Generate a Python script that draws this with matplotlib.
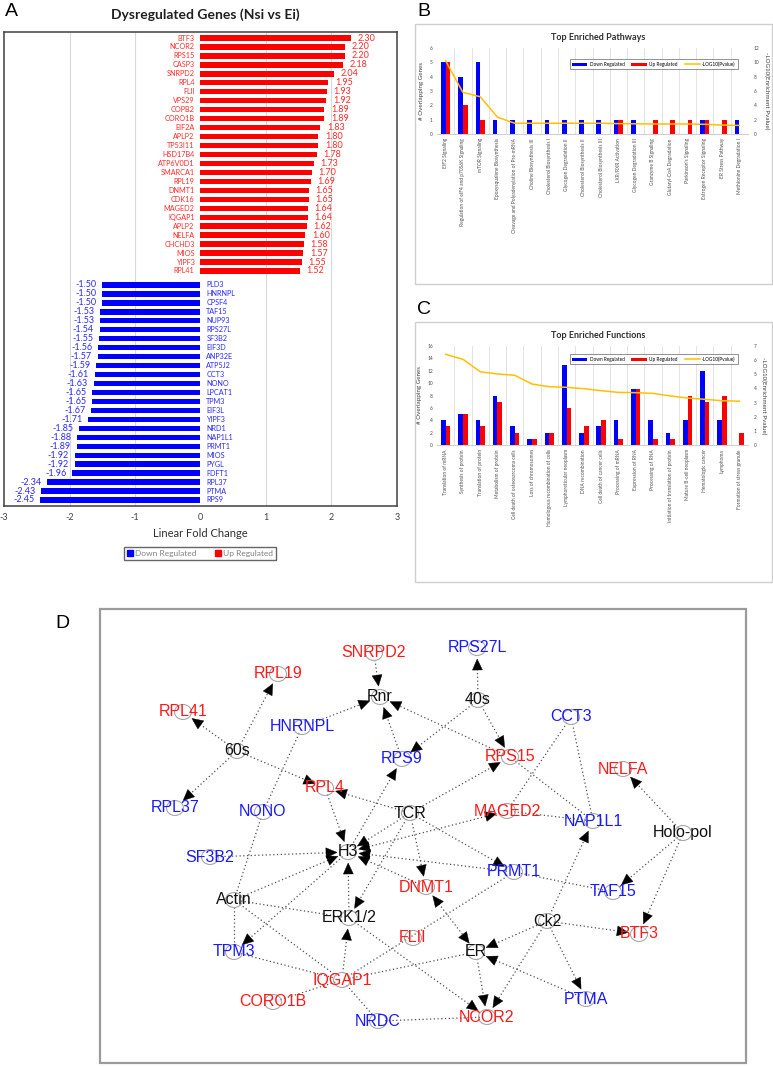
import numpy as np
import matplotlib
matplotlib.use("Agg")
import matplotlib.pyplot as plt
from matplotlib.patches import Patch, Rectangle, Ellipse, Polygon

W, H = 773, 1066

# ---------------- DATA ----------------
# Panel A: dysregulated genes (linear fold change)
up_genes = ["BTF3", "NCOR2", "RPS15", "CASP3", "SNRPD2", "RPL4", "FLII", "VPS29", "COPB2",
            "CORO1B", "EIF2A", "APLP2", "TP53I11", "HSD17B4", "ATP6V0D1", "SMARCA1", "RPL19",
            "DNMT1", "CDK16", "MAGED2", "IQGAP1", "APLP2", "NELFA", "CHCHD3", "MIOS", "YIPF3", "RPL41"]
up_vals = [2.30, 2.20, 2.20, 2.18, 2.04, 1.95, 1.93, 1.92, 1.89, 1.89, 1.83, 1.80, 1.80, 1.78,
           1.73, 1.70, 1.69, 1.65, 1.65, 1.64, 1.64, 1.62, 1.60, 1.58, 1.57, 1.55, 1.52]
down_genes = ["PLD3", "HNRNPL", "CPSF4", "TAF15", "NUP93", "RPS27L", "SF3B2", "EIF3D", "ANP32E",
              "ATP5J2", "CCT3", "NONO", "LPCAT1", "TPM3", "EIF3L", "YIPF3", "NRD1", "NAP1L1",
              "PRMT1", "MIOS", "PYGL", "FDFT1", "RPL37", "PTMA", "RPS9"]
down_vals = [-1.50, -1.50, -1.50, -1.53, -1.53, -1.54, -1.55, -1.56, -1.57, -1.59, -1.61, -1.63,
             -1.65, -1.65, -1.67, -1.71, -1.85, -1.88, -1.89, -1.92, -1.92, -1.96, -2.34, -2.43, -2.45]

# Panel B: top enriched pathways
path_names = ["EIF2 Signaling", "Regulation of eIF4 and p70S6K Signaling", "mTOR Signaling",
              "Epoxysqualene Biosynthesis", "Cleavage and Polyadenylation of Pre-mRNA",
              "Choline Biosynthesis III", "Cholesterol Biosynthesis I", "Glycogen Degradation II",
              "Cholesterol Biosynthesis II", "Cholesterol Biosynthesis III", "LXR/RXR Activation",
              "Glycogen Degradation III", "Granzyme B Signaling", "Glutaryl-CoA Degradation",
              "Parkinson's Signaling", "Estrogen Receptor Signaling", "ER Stress Pathway",
              "Methionine Degradation I"]
path_down = [5, 4, 5, 1, 1, 1, 1, 1, 1, 1, 1, 1, 0, 0, 0, 1, 0, 1]
path_up = [5, 2, 1, 0, 0, 0, 0, 0, 0, 0, 1, 0, 1, 1, 1, 1, 1, 0]
path_logp = [10.2, 5.8, 5.2, 2.35, 1.5, 1.5, 1.5, 1.5, 1.5, 1.5, 1.45, 1.42, 1.4, 1.4, 1.4,
             1.35, 1.25, 1.2]

# Panel C: top enriched functions
func_names = ["Translation of mRNA", "Synthesis of protein", "Translation of protein",
              "Metabolism of protein", "Cell death of osteosarcoma cells", "Loss of chromosomes",
              "Homologous recombination of cells", "Lymphoreticular neoplasm", "DNA recombination",
              "Cell death of cancer cells", "Processing of mRNA", "Expression of RNA",
              "Processing of RNA", "Initiation of translation of protein", "Mature B-cell neoplasm",
              "Hematologic cancer", "Lymphoma", "Formation of stress granule"]
func_down = [4, 5, 4, 8, 3, 1, 2, 13, 2, 3, 4, 9, 4, 2, 4, 12, 4, 0]
func_up = [3, 5, 3, 7, 2, 1, 2, 6, 3, 4, 1, 9, 1, 1, 8, 7, 8, 2]
func_logp = [6.41, 6.06, 5.18, 5.02, 4.93, 4.31, 4.12, 4.08, 3.98, 3.84, 3.72, 3.70, 3.65,
             3.47, 3.32, 3.23, 3.13, 3.10]

# Panel D: network nodes (name, x, y in pixel space of the picture) and kind
node_names = ["SNRPD2", "RPS27L", "RPL19", "Rnr", "40s", "RPL41", "HNRNPL", "CCT3", "60s",
              "RPS9", "RPS15", "NELFA", "RPL4", "RPL37", "NONO", "TCR", "MAGED2", "NAP1L1",
              "Holo-pol", "H3", "SF3B2", "PRMT1", "DNMT1", "TAF15", "Actin", "ERK1/2", "Ck2",
              "FLII", "BTF3", "ER", "TPM3", "IQGAP1", "PTMA", "CORO1B", "NRDC", "NCOR2"]
node_x = [374, 477, 278, 380, 478, 183, 302, 571, 237, 402, 510, 623, 325, 175, 263, 410, 507,
          593, 683, 348, 210, 514, 426, 613, 234, 349, 547, 413, 639, 476, 234, 342, 586, 273,
          378, 487]
node_y = [653, 648, 674, 697, 700, 712, 727, 717, 751, 759, 757, 769, 788, 808, 812, 813, 811,
          821, 833, 852, 857, 872, 887, 892, 900, 918, 921, 938, 934, 952, 952, 980, 999, 1002,
          1021, 1017]
node_kind = ["up", "down", "up", "hub", "hub", "up", "down", "down", "hub", "down", "up", "up",
             "up", "down", "down", "hub", "up", "down", "hub", "hub", "down", "down", "up", "down",
             "hub", "hub", "hub", "up", "up", "hub", "down", "up", "down", "up", "down", "up"]
edge_src = ["SNRPD2", "HNRNPL", "RPS9", "RPS15", "40s", "40s", "40s", "60s", "60s", "60s", "60s",
            "HNRNPL", "NONO", "TCR", "RPL4", "TCR", "TCR", "TCR", "TCR", "TCR", "H3", "H3",
            "PRMT1", "DNMT1", "SF3B2", "Actin", "H3", "ERK1/2", "Actin", "Actin", "Actin", "TPM3",
            "IQGAP1", "IQGAP1", "IQGAP1", "IQGAP1", "IQGAP1", "NRDC", "ERK1/2", "DNMT1", "Ck2",
            "Ck2", "Ck2", "Ck2", "Ck2", "PTMA", "ER", "PRMT1", "Holo-pol", "Holo-pol", "Holo-pol",
            "CCT3", "CCT3", "RPS15", "MAGED2"]
edge_dst = ["Rnr", "Rnr", "Rnr", "Rnr", "RPS27L", "RPS9", "RPS15", "RPL19", "RPL41", "RPL37",
            "RPL4", "NONO", "Actin", "RPL4", "H3", "RPS15", "H3", "DNMT1", "PRMT1", "ERK1/2",
            "RPS9", "MAGED2", "H3", "H3", "H3", "H3", "TPM3", "H3", "ERK1/2", "TPM3", "IQGAP1",
            "IQGAP1", "ERK1/2", "CORO1B", "NRDC", "PRMT1", "ER", "NCOR2", "NCOR2", "ER", "ER",
            "NCOR2", "PTMA", "BTF3", "NAP1L1", "ER", "NCOR2", "TAF15", "NELFA", "TAF15", "BTF3",
            "MAGED2", "NAP1L1", "NAP1L1", "NAP1L1"]
edge_type = [">", ">", ">", ">", ">", ">", ">", ">", ">", ">", ">", "-", "-", ">", ">", ">", ">",
             ">", ">", ">", ">", "<>", ">", ">", ">", ">", ">", ">", "-", "-", "-", "-", ">", "-",
             "-", "-", "-", "-", ">", "<>", ">", ">", ">", ">", ">", ">", ">", "-", ">", ">", ">",
             "-", "-", "-", "-"]

RED = "#ff0000"
BLUE = "#0000ff"
GOLD = "#ffc000"


def box(x0, y0, x1, y1):
    return [x0 / W, 1 - y1 / H, (x1 - x0) / W, (y1 - y0) / H]


fig = plt.figure(figsize=(W / 100, H / 100), dpi=100)
plt.rcParams["font.family"] = ["Lato", "DejaVu Sans"]

# panel letters
for letter, (lx, ly) in zip("ABCD", [(11, 12), (424, 12), (424, 309), (62, 623)]):
    fig.text(lx / W, 1 - ly / H, letter, fontsize=14, family="Liberation Sans",
             ha="center", va="center")

# ---------------- Panel A ----------------
axA = fig.add_axes(box(4, 32, 397, 506))
y_up = np.arange(len(up_genes))
y_down = len(up_genes) - 1 + 1.56 + np.arange(len(down_genes))
axA.barh(y_up, up_vals, height=0.6, color=RED, zorder=2)
axA.barh(y_down, down_vals, height=0.6, color=BLUE, zorder=2)
for y, g, v in zip(y_up, up_genes, up_vals):
    axA.text(-0.09, y, g, ha="right", va="center", fontsize=5.2, color="#ff2a2a")
    axA.text(v + 0.1, y, f"{v:.2f}", ha="left", va="center", fontsize=6.5, color="#ff2a2a")
for y, g, v in zip(y_down, down_genes, down_vals):
    axA.text(0.09, y, g, ha="left", va="center", fontsize=5.2, color="#2a2aff")
    axA.text(v - 0.09, y, f"{v:.2f}", ha="right", va="center", fontsize=6.5, color="#2a2aff")
axA.set_xlim(-3, 3)
axA.set_ylim(y_down[-1] + 0.67, -0.67)
axA.set_xticks(range(-3, 4))
axA.set_xticklabels([str(t) for t in range(-3, 4)], fontsize=6.5, color="#404040")
axA.set_yticks([])
axA.tick_params(axis="x", length=0, pad=5)
for t in [-2, -1, 1, 2]:
    axA.axvline(t, color="#d9d9d9", lw=0.8, zorder=0)
for s in axA.spines.values():
    s.set_color("#404040")
    s.set_linewidth(1.1)
axA.set_xlabel("Linear Fold Change", fontsize=8, color="#303030", labelpad=4)
fig.text(205 / W, 1 - 15 / H, "Dysregulated Genes (Nsi vs Ei)", fontsize=10,
         fontweight="bold", ha="center", va="center", color="#202020")
legA = fig.legend(handles=[Patch(color=BLUE, label="Down Regulated"),
                           Patch(color=RED, label="Up Regulated")],
                  loc="center", bbox_to_anchor=(200 / W, 1 - 553.5 / H), ncol=2,
                  fontsize=6, handlelength=0.7, handleheight=0.7, handletextpad=0.3,
                  columnspacing=2.2, fancybox=False, borderpad=0.35)
legA.get_frame().set_edgecolor("#404040")
legA.get_frame().set_linewidth(1.0)
for t in legA.get_texts():
    t.set_color("#808080")


# ---------------- Panels B and C ----------------
def enrichment(frame, area, title, title_y, names, down, up, logp, ymax, ystep, y2max,
               leg_top):
    fx0, fy0, fx1, fy1 = frame
    fig.patches.append(Rectangle((fx0 / W, 1 - fy1 / H), (fx1 - fx0) / W, (fy1 - fy0) / H,
                                 transform=fig.transFigure, fill=False, ec="#cfcfcf", lw=1.0))
    fig.text(598 / W, 1 - title_y / H, title, fontsize=6.5, fontweight="bold",
             ha="center", va="center", color="#303030")
    ax = fig.add_axes(box(*area))
    x = np.arange(len(names))
    bw = 0.27
    ax.bar(x - bw / 2, down, width=bw, color=BLUE, label="Down Regulated", zorder=2)
    ax.bar(x + bw / 2, up, width=bw, color=RED, label="Up Regulated", zorder=2)
    ax.set_xlim(-0.5, len(names) - 0.5)
    ax.set_ylim(0, ymax)
    ax.set_yticks(np.arange(0, ymax + 0.1, ystep))
    ax.set_xticks(x)
    ax.set_xticklabels(names, rotation=90, fontsize=4.2, color="#404040", va="top")
    for b in np.arange(0.5, len(names) - 0.5, 1):
        ax.axvline(b, color="#e3e3e3", lw=0.7, zorder=0)
    ax.tick_params(axis="both", length=0, labelsize=3.5, labelcolor="#505050", pad=3)
    for s in ["top", "left", "right"]:
        ax.spines[s].set_visible(False)
    ax.spines["bottom"].set_color("#d0d0d0")
    ax.set_ylabel("# Overlapping Genes", fontsize=4.5, color="#404040", labelpad=4)
    ax2 = ax.twinx()
    ax2.plot(x, logp, color=GOLD, lw=1.1, label="-LOG10(Pvalue)", zorder=3)
    ax2.set_ylim(0, y2max)
    ax2.set_yticks(np.arange(0, y2max + 0.1, 2 if y2max == 12 else 1))
    ax2.tick_params(axis="y", length=0, labelsize=3.5, labelcolor="#505050", pad=4)
    for s in ax2.spines.values():
        s.set_visible(False)
    ax2.set_ylabel("-LOG10(Enrichment Pvalue)", fontsize=4.5, color="#404040",
                   rotation=270, labelpad=7)
    h1, l1 = ax.get_legend_handles_labels()
    h2, l2 = ax2.get_legend_handles_labels()
    leg = ax2.legend(h1 + h2, l1 + l2, loc="upper right", bbox_to_anchor=(0.975, leg_top),
                     ncol=3, fontsize=3.4, handlelength=3.2, handleheight=0.6,
                     columnspacing=1.5, handletextpad=0.5, fancybox=False, borderpad=0.5)
    leg.get_frame().set_edgecolor("#404040")
    leg.get_frame().set_linewidth(0.5)


enrichment((415, 24, 772, 284), (437, 48, 748, 134), "Top Enriched Pathways", 38,
           path_names, path_down, path_up, path_logp, 6, 1, 12, 0.9)
enrichment((415, 322, 772, 582), (437, 346, 748, 445), "Top Enriched Functions", 336,
           func_names, func_down, func_up, func_logp, 16, 2, 7, 0.94)

# ---------------- Panel D: network ----------------
axD = fig.add_axes(box(100, 609, 746, 1063))
axD.set_xlim(100, 746)
axD.set_ylim(1063, 609)
axD.axis("off")
axD.add_patch(Rectangle((0, 0), 1, 1, transform=axD.transAxes, fill=False,
                        ec="#9a9a9a", lw=1.6, clip_on=False))
pos = {n: np.array([x, y], float) for n, x, y in zip(node_names, node_x, node_y)}


def head(tip, d):
    L, hw = 11, 5
    base = tip - d * L
    nrm = np.array([-d[1], d[0]])
    axD.add_patch(Polygon([tip, base + nrm * hw, base - nrm * hw], closed=True,
                          fc="black", ec="black", lw=0.3, zorder=3))


for a, b, t in zip(edge_src, edge_dst, edge_type):
    p, q = pos[a], pos[b]
    d = (q - p) / np.linalg.norm(q - p)
    p_end = p + d * (11 if t == "<>" else 7)
    q_end = q - d * (11 if t in (">", "<>") else 7)
    s = p_end + d * (10 if t == "<>" else 0)
    e = q_end - d * (10 if t in (">", "<>") else 0)
    axD.plot([s[0], e[0]], [s[1], e[1]], color="#505050", lw=0.9,
             linestyle=(0, (1, 2)), zorder=1)
    if t in (">", "<>"):
        head(q_end, d)
    if t == "<>":
        head(p_end, -d)

kind_color = {"up": "#ff1a1a", "down": "#1a1aff", "hub": "#111111"}
for n, k in zip(node_names, node_kind):
    x, y = pos[n]
    axD.add_patch(Ellipse((x, y), 17, 15, fill=False, ec="#a8a8a8", lw=0.8, zorder=2))
    axD.text(x, y, n, fontsize=11.5, family="Liberation Sans", color=kind_color[k],
             ha="center", va="center", zorder=4)

fig.savefig("out.png", dpi=100)
